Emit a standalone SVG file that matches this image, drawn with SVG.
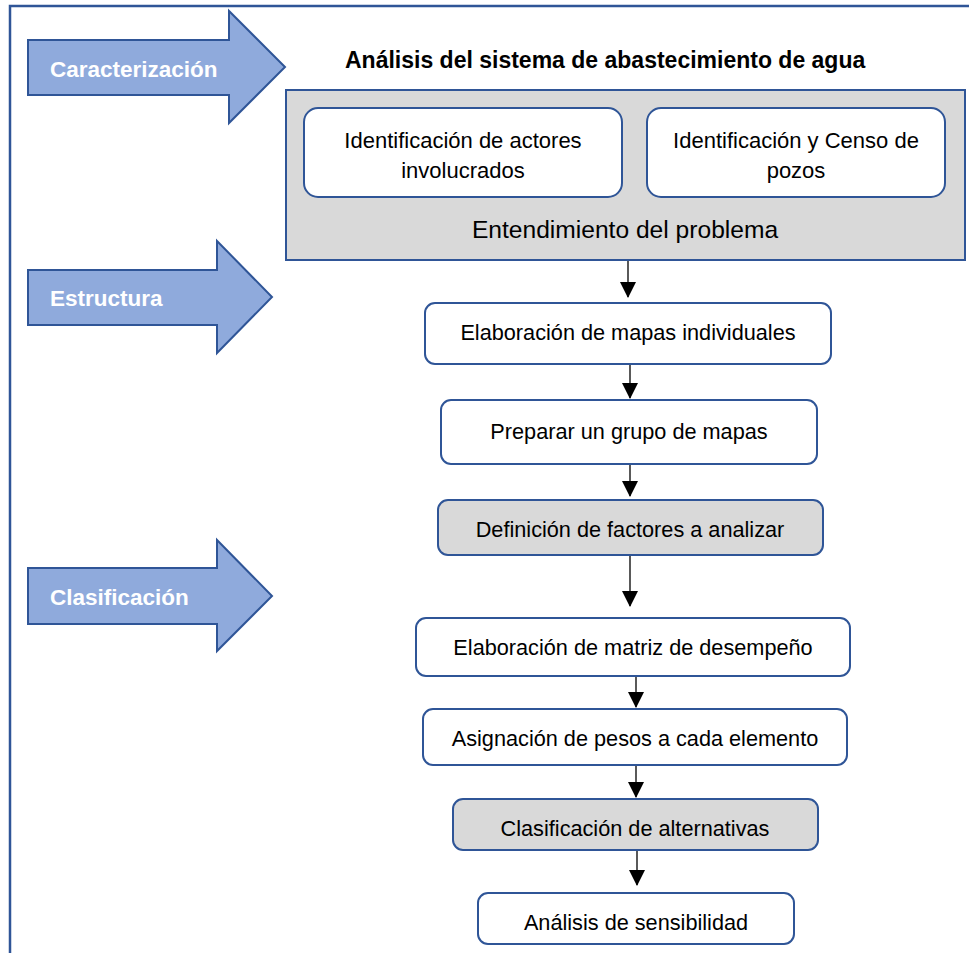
<svg xmlns="http://www.w3.org/2000/svg" width="969" height="953" viewBox="0 0 969 953">
<style>
.frame{fill:none;stroke:#2F5597;stroke-width:2.5}
.arr{fill:#8FAADC;stroke:#2F5597;stroke-width:2}
.alab{fill:#fff;font-family:"Liberation Sans",Arial,sans-serif;font-weight:bold;font-size:22.5px}
.title{fill:#000;font-family:"Liberation Sans",Arial,sans-serif;font-weight:bold;font-size:23px}
.box{fill:#fff;stroke:#2F5597;stroke-width:2}
.gbox{fill:#D9D9D9;stroke:#2F5597;stroke-width:2}
.t{fill:#000;font-family:"Liberation Sans",Arial,sans-serif;font-size:21.7px;text-anchor:middle}
.ti{fill:#000;font-family:"Liberation Sans",Arial,sans-serif;font-size:22px;text-anchor:middle}
.tb{fill:#000;font-family:"Liberation Sans",Arial,sans-serif;font-size:24.6px;text-anchor:middle}
.con{stroke:#000;stroke-width:1.3;fill:none;marker-end:url(#ah)}
</style>
<defs>
<marker id="ah" markerUnits="userSpaceOnUse" markerWidth="16" markerHeight="16" refX="15" refY="8" orient="auto" viewBox="0 0 16 16">
<path d="M0,0 L16,8 L0,16 Z" fill="#000"/>
</marker>
</defs>
<rect width="969" height="953" fill="#fff"/>
<rect class="frame" x="10" y="6" width="1000" height="1000"/>

<g id="arrow-caracterizacion">
<path class="arr" d="M28,40 L229,40 L229,11 L285,67 L229,123 L229,95 L28,95 Z"/>
<text class="alab" x="50" y="77">Caracterización</text>
</g>
<g id="arrow-estructura">
<path class="arr" d="M28,270 L217,270 L217,241 L272,297 L217,353 L217,325 L28,325 Z"/>
<text class="alab" x="50" y="306">Estructura</text>
</g>
<g id="arrow-clasificacion">
<path class="arr" d="M28,568 L217,568 L217,540 L272,596 L217,651 L217,624 L28,624 Z"/>
<text class="alab" x="50" y="605">Clasificación</text>
</g>

<g id="title">
<text class="title" x="345" y="68">Análisis del sistema de abastecimiento de agua</text>
</g>

<g id="entendimiento">
<rect class="gbox" x="286" y="90" width="679" height="170"/>
<text class="tb" x="625" y="238">Entendimiento del problema</text>
</g>
<g id="actores">
<rect class="box" x="304" y="108" width="318" height="89" rx="14"/>
<text class="ti" x="463" y="148">Identificación de actores</text>
<text class="ti" x="463" y="178">involucrados</text>
</g>
<g id="pozos">
<rect class="box" x="647" y="108" width="298" height="89" rx="14"/>
<text class="ti" x="796" y="148">Identificación y Censo de</text>
<text class="ti" x="796" y="178">pozos</text>
</g>

<g id="mapas-individuales">
<rect class="box" x="425" y="303" width="406" height="61" rx="10"/>
<text class="t" x="628" y="340">Elaboración de mapas individuales</text>
</g>
<g id="grupo-mapas">
<rect class="box" x="441" y="400" width="376" height="64" rx="10"/>
<text class="t" x="629" y="439">Preparar un grupo de mapas</text>
</g>
<g id="definicion-factores">
<rect class="gbox" x="438" y="500" width="385" height="55" rx="10"/>
<text class="t" x="630" y="537">Definición de factores a analizar</text>
</g>
<g id="matriz-desempeno">
<rect class="box" x="416" y="618" width="434" height="58" rx="10"/>
<text class="t" x="633" y="655">Elaboración de matriz de desempeño</text>
</g>
<g id="asignacion-pesos">
<rect class="box" x="423" y="709" width="424" height="56" rx="10"/>
<text class="t" x="635" y="746">Asignación de pesos a cada elemento</text>
</g>
<g id="clasificacion-alternativas">
<rect class="gbox" x="453" y="799" width="365" height="51" rx="10"/>
<text class="t" x="635" y="836">Clasificación de alternativas</text>
</g>
<g id="sensibilidad">
<rect class="box" x="478" y="893" width="316" height="51" rx="10"/>
<text class="t" x="636" y="930">Análisis de sensibilidad</text>
</g>

<g id="connectors">
<line class="con" x1="628" y1="261" x2="628" y2="297"/>
<line class="con" x1="630" y1="365" x2="630" y2="398"/>
<line class="con" x1="630" y1="465" x2="630" y2="496"/>
<line class="con" x1="630" y1="556" x2="630" y2="606"/>
<line class="con" x1="636" y1="677" x2="636" y2="707"/>
<line class="con" x1="636" y1="766" x2="636" y2="797"/>
<line class="con" x1="637" y1="851" x2="637" y2="885"/>
</g>
</svg>
